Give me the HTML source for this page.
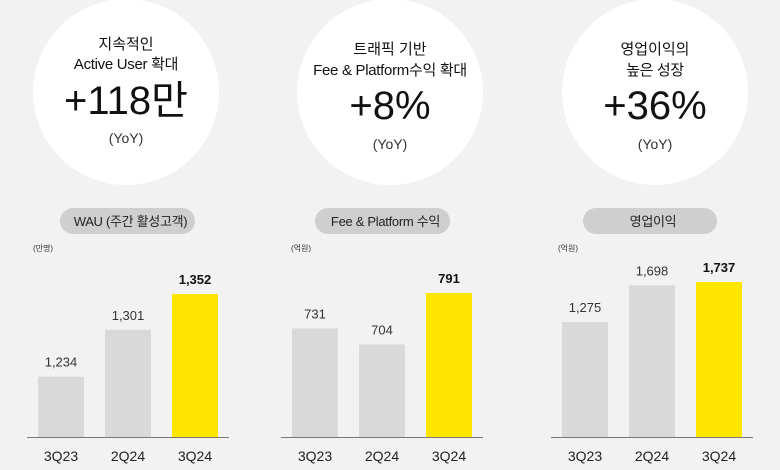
<!DOCTYPE html>
<html><head><meta charset="utf-8"><style>
html,body{margin:0;padding:0;background:#f2f2f2;}
svg{display:block;font-family:"Liberation Sans","Noto Sans CJK KR",sans-serif;}
</style></head><body>
<svg id="c" width="780" height="470" viewBox="0 0 780 470">
<rect width="780" height="470" fill="#f2f2f2"/>
</svg>
<script>
const categories = ["3Q23","2Q24","3Q24"];
const wauValues = [1234,1301,1352];
const wauLabels = ["1,234","1,301","1,352"];
const feeValues = [731,704,791];
const feeLabels = ["731","704","791"];
const opValues = [1275,1698,1737];
const opLabels = ["1,275","1,698","1,737"];
const circleTitles = [["지속적인","Active User 확대"],["트래픽 기반","Fee & Platform수익 확대"],["영업이익의","높은 성장"]];
const circleBig = ["+118만","+8%","+36%"];
const pillTitles = ["WAU (주간 활성고객)","Fee & Platform 수익","영업이익"];
const unitLabels = ["(만명)","(억원)","(억원)"];

const NS="http://www.w3.org/2000/svg";
const svg=document.getElementById('c');
function mk(tag,attrs,parent){const e=document.createElementNS(NS,tag);for(const k in attrs)e.setAttribute(k,attrs[k]);(parent||svg).appendChild(e);return e;}

const panels=[
 {cx:126,axisX:27,barX:[38,105,172],pill:[60,195],unitX:33,vals:wauValues,labs:wauLabels,dom:[1148,1352],top:294},
 {cx:390,axisX:281,barX:[292,359,426],pill:[315,450],unitX:291,vals:feeValues,labs:feeLabels,dom:[547,791],top:293},
 {cx:655,axisX:551,barX:[562,629,696],pill:[583,717],unitX:558,vals:opValues,labs:opLabels,dom:[-50,1737],top:282}
];
const base=437;
panels.forEach((p,i)=>{
  const g=mk('g',{});
  
  
  const c=mk('circle',{cx:p.cx,cy:92,r:93,fill:'#ffffff'},g);
  
  
  const t1=mk('text',{x:p.cx,y:i==0?49:54,'text-anchor':'middle','font-size':15,fill:'#111'},g);
  t1.textContent=circleTitles[i][0];
  
  
  const t2=mk('text',{x:p.cx,y:i==0?69:75,'text-anchor':'middle','font-size':15,fill:'#111','letter-spacing':'-0.3'},g);
  t2.textContent=circleTitles[i][1];
  
  
  const t3=mk('text',{x:p.cx,y:i==0?114:119,'text-anchor':'middle','font-size':40,fill:'#111'},g);
  t3.textContent=circleBig[i];
  
  
  const t4=mk('text',{x:p.cx,y:i==0?143:149,'text-anchor':'middle','font-size':14,fill:'#333'},g);
  t4.textContent='(YoY)';
  
  
  const pr=mk('rect',{x:p.pill[0],y:208,width:p.pill[1]-p.pill[0],height:26,rx:13,fill:'#cfcfcf'},g);
  
  
  const pt=mk('text',{x:(p.pill[0]+p.pill[1])/2+3,y:226,'text-anchor':'middle','font-size':13,fill:'#222','letter-spacing':'-0.3'},g);
  pt.textContent=pillTitles[i];
  
  
  const u=mk('text',{x:p.unitX,y:251,'font-size':8,fill:'#333'},g);
  u.textContent=unitLabels[i];
  
  
  const y=v=>base-(v-p.dom[0])/(p.dom[1]-p.dom[0])*(base-p.top);
  p.vals.forEach((v,j)=>{
    const last=j==2;
    const b=mk('rect',{x:p.barX[j],y:y(v),width:46,height:base-y(v),fill:last?'#fee500':'#d9d9d9'},g);
    
    
    const vl=mk('text',{x:p.barX[j]+23,y:y(v)-10,'text-anchor':'middle','font-size':13,fill:last?'#111':'#333','font-weight':last?'bold':'normal'},g);
    vl.textContent=p.labs[j];
    
    
    const cl=mk('text',{x:p.barX[j]+23,y:461,'text-anchor':'middle','font-size':14,fill:'#222'},g);
    cl.textContent=categories[j];
    
    
  });
  const ax=mk('line',{x1:p.axisX,x2:p.axisX+202,y1:base+0.5,y2:base+0.5,stroke:'#777','stroke-width':1},g);
  
  
});
</script>
</body></html>
